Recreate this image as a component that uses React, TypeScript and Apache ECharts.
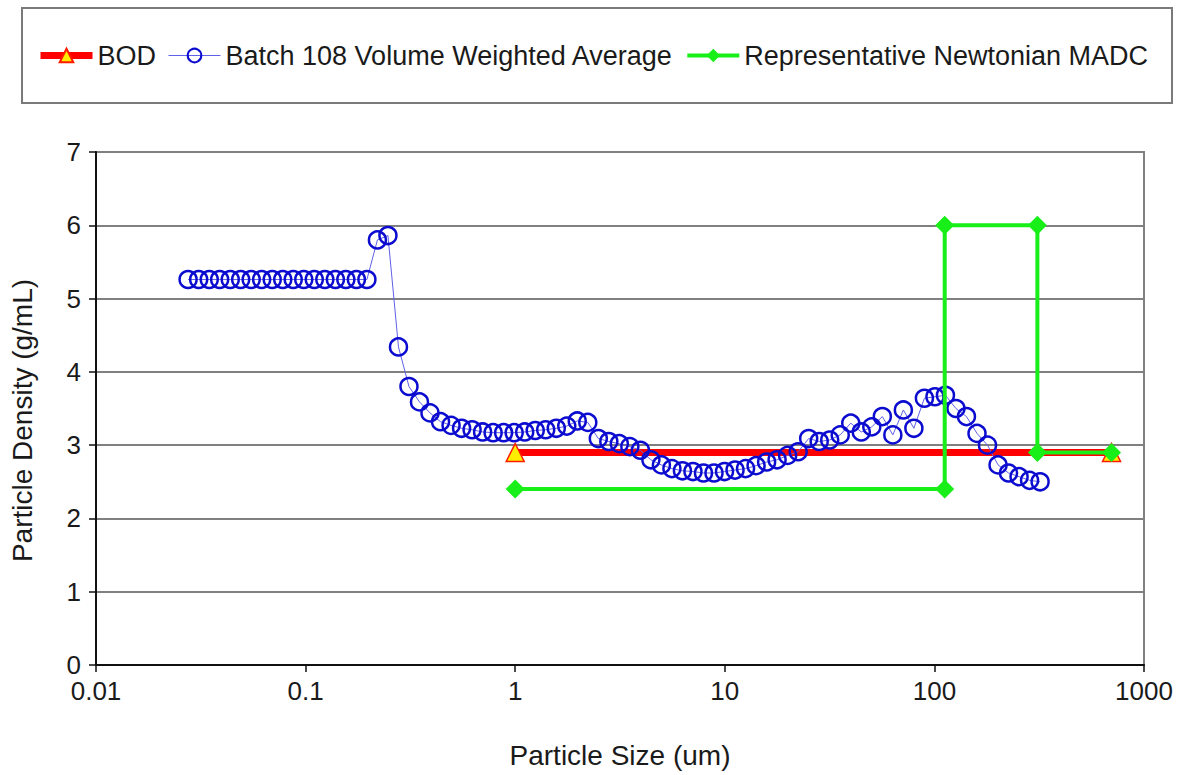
import React, { useEffect, useRef } from "react";
import * as echarts from "echarts";

const FONT = "'Liberation Sans', Arial, sans-serif";

// Particle sizes (um) of the batch distribution bins
const batchSizes = [
  0.0275, 0.0309, 0.0347, 0.0389, 0.0437, 0.049, 0.055, 0.0617, 0.0693, 0.0778,
  0.0873, 0.098, 0.11, 0.1235, 0.1387, 0.1556, 0.1747, 0.1961, 0.2201, 0.2471,
  0.2774, 0.3113, 0.3494, 0.3922, 0.4403, 0.4943, 0.5548, 0.6228, 0.699, 0.7846,
  0.8807, 0.9886, 1.11, 1.246, 1.398, 1.57, 1.762, 1.977, 2.22, 2.492,
  2.797, 3.139, 3.524, 3.956, 4.44, 4.984, 5.594, 6.279, 7.049, 7.912,
  8.881, 9.969, 11.19, 12.56, 14.1, 15.83, 17.76, 19.94, 22.39, 25.13,
  28.21, 31.66, 35.54, 39.9, 44.79, 50.28, 56.44, 63.35, 71.11, 79.82,
  89.6, 100.6, 112.9, 126.7, 142.2, 159.7, 179.2, 201.2, 225.8, 253.5,
  284.5, 319.4,
];

// Batch 108 volume weighted average density (g/mL)
const batchDensity = [
  5.26, 5.26, 5.26, 5.26, 5.26, 5.26, 5.26, 5.26, 5.26, 5.26,
  5.26, 5.26, 5.26, 5.26, 5.26, 5.26, 5.26, 5.26, 5.8, 5.86,
  4.34, 3.8, 3.59, 3.44, 3.32, 3.27, 3.23, 3.21, 3.18, 3.17,
  3.17, 3.17, 3.18, 3.2, 3.21, 3.23, 3.26, 3.33, 3.31, 3.09,
  3.05, 3.02, 2.98, 2.93, 2.8, 2.73, 2.68, 2.65, 2.64, 2.62,
  2.62, 2.64, 2.66, 2.68, 2.72, 2.77, 2.8, 2.86, 2.91, 3.09,
  3.05, 3.07, 3.14, 3.3, 3.18, 3.25, 3.39, 3.14, 3.48, 3.23,
  3.64, 3.66, 3.68, 3.5, 3.39, 3.16, 3.0, 2.73, 2.62, 2.57,
  2.52, 2.5,
];

// BOD
const bodSizes = [1, 700];
const bodDensity = [2.9, 2.9];

// Representative Newtonian MADC
const madcSizes = [1, 112, 112, 310, 310, 700];
const madcDensity = [2.4, 2.4, 6.0, 6.0, 2.9, 2.9];

const xTickLabels = ["0.01", "0.1", "1", "10", "100", "1000"];
const seriesNames = [
  "BOD",
  "Batch 108 Volume Weighted Average",
  "Representative Newtonian MADC",
];

const zip = (xs: number[], ys: number[]) => xs.map((x, i) => [x, ys[i]]);

export default function App() {
  const ref = useRef<HTMLDivElement>(null);

  useEffect(() => {
    if (!ref.current) return;
    const chart = echarts.init(ref.current, null, { renderer: "svg" });
    chart.setOption({
      animation: false,
      backgroundColor: "#ffffff",
      textStyle: { fontFamily: FONT },
      graphic: [
        {
          type: "rect",
          shape: { x: 22, y: 8, width: 1150, height: 95 },
          style: { fill: "none", stroke: "#7a7a7a", lineWidth: 2 },
          z: -1,
        },
      ],
      legend: {
        left: 32,
        top: 37,
        itemWidth: 52,
        itemHeight: 17,
        itemGap: 12,
        textStyle: { fontSize: 27, color: "#1a1a1a", fontFamily: FONT },
        data: [
          { name: seriesNames[0], lineStyle: { width: 7 } },
          { name: seriesNames[1], lineStyle: { width: 1 } },
          { name: seriesNames[2], lineStyle: { width: 4 } },
        ],
      },
      grid: {
        left: 93,
        right: 37,
        top: 152,
        bottom: 110,
        show: true,
        borderColor: "#808080",
        borderWidth: 2,
      },
      xAxis: {
        type: "log",
        logBase: 10,
        min: 0.01,
        max: 1000,
        name: "Particle Size (um)",
        nameLocation: "middle",
        nameGap: 76,
        nameTextStyle: { fontSize: 28, color: "#1a1a1a", fontFamily: FONT },
        axisLine: { show: true, lineStyle: { color: "#111", width: 2 } },
        axisTick: { show: true, length: 7, inside: false, lineStyle: { color: "#111", width: 1.5 } },
        minorTick: { show: false },
        splitLine: { show: false },
        axisLabel: {
          fontSize: 26,
          color: "#1a1a1a",
          margin: 13,
          fontFamily: FONT,
          formatter: (v: number) => {
            const idx = Math.round(Math.log10(v)) + 2;
            return xTickLabels[idx] ?? String(v);
          },
        },
      },
      yAxis: {
        type: "value",
        min: 0,
        max: 7,
        interval: 1,
        name: "Particle Density (g/mL)",
        nameLocation: "middle",
        nameGap: 60,
        nameTextStyle: {
          fontSize: 28,
          color: "#1a1a1a",
          fontFamily: FONT,
          padding: [0, 24, 0, 0],
        },
        axisLine: { show: true, lineStyle: { color: "#111", width: 2 } },
        axisTick: { show: true, length: 7, inside: false, lineStyle: { color: "#111", width: 1.5 } },
        splitLine: { show: true, lineStyle: { color: "#808080", width: 2 } },
        axisLabel: { fontSize: 26, color: "#1a1a1a", margin: 15, fontFamily: FONT },
      },
      series: [
        {
          name: seriesNames[0],
          type: "line",
          data: zip(bodSizes, bodDensity),
          symbol: "triangle",
          symbolSize: 18,
          lineStyle: { color: "#ff0000", width: 7 },
          itemStyle: { color: "#ffee00", borderColor: "#ff1a00", borderWidth: 1.5 },
          z: 2,
        },
        {
          name: seriesNames[1],
          type: "line",
          data: zip(batchSizes, batchDensity),
          symbol: "circle",
          symbolSize: 17,
          showAllSymbol: true,
          lineStyle: { color: "#6060e8", width: 1 },
          itemStyle: { color: "rgba(0,0,0,0)", borderColor: "#0c0cd0", borderWidth: 2.5 },
          z: 3,
        },
        {
          name: seriesNames[2],
          type: "line",
          data: zip(madcSizes, madcDensity),
          symbol: "diamond",
          symbolSize: 19,
          lineStyle: { color: "#18ee18", width: 4 },
          itemStyle: { color: "#18ee18" },
          z: 4,
        },
      ],
    });
    return () => chart.dispose();
  }, []);

  return (
    <div
      ref={ref}
      style={{ position: "fixed", left: 0, top: 0, width: 1181, height: 775 }}
    />
  );
}
